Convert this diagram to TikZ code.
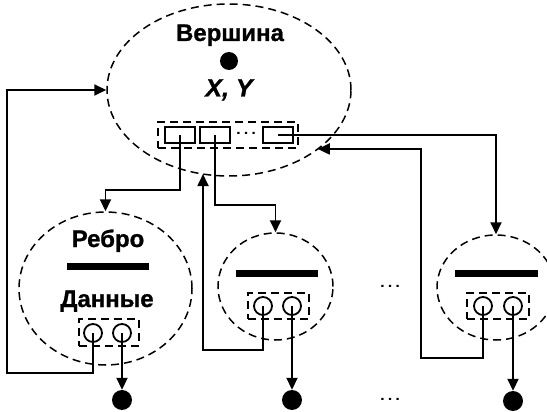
\documentclass[tikz,border=0pt]{standalone}
\usepackage{fontspec}
\setmainfont{Liberation Sans}
\newfontfamily\labfont[BoldFeatures={FakeBold=1},BoldItalicFeatures={FakeBold=1}]{Liberation Sans}
\newfontfamily\dotfont[FakeStretch=1.2]{Liberation Sans}
\usetikzlibrary{shapes.geometric,arrows.meta,calc}
\begin{document}
\begin{tikzpicture}[x=1pt,y=-1pt,
  lw/.style={line width=1.8pt},
  dsh/.style={dash pattern=on 8pt off 5pt, line width=1.5pt},
  oval/.style={ellipse,draw,dsh,inner sep=0pt},
  portbox/.style={rectangle,draw,dsh,inner sep=0pt},
  slot/.style={rectangle,draw,lw,minimum width=30pt,minimum height=16pt,inner sep=0pt},
  ring/.style={circle,draw,lw,minimum size=18pt,inner sep=0pt},
  bar/.style={rectangle,fill=black,minimum width=82pt,minimum height=7pt,inner sep=0pt},
  dot/.style={circle,fill=black,minimum size=20pt,inner sep=0pt},
  lab/.style={font=\labfont\bfseries\fontsize{24}{28}\selectfont,anchor=base,inner sep=0pt},
  ell/.style={font=\dotfont\fontsize{20}{24}\selectfont,anchor=base,inner sep=0pt},
  arr/.style={lw,-{Triangle[length=12pt,width=11pt]}}
]
\useasboundingbox (0,0) rectangle (547,412);

% vertex
\node[oval,minimum width=244pt,minimum height=172pt] (V) at (229,90) {};
\node[lab] (vt) at (230,41) {Вершина};
\node[dot,minimum size=18pt] (vd) at (229,61) {};
\node[font=\labfont\bfseries\itshape\fontsize{25}{29}\selectfont,anchor=base,inner sep=0pt] (xy) at (229,96.5) {X, Y};
\node[portbox,minimum width=140pt,minimum height=26pt] (vp) at (228,135) {};
\node[slot] (r1) at (180,135) {};
\node[slot] (r2) at (215,135) {};
\node[slot] (r3) at (278,135) {};
\node[ell] (vdots) at (246,134.5) {…};

% edge 1
\node[oval,minimum width=173pt,minimum height=153pt] (E1) at (105.5,288.5) {};
\node[lab] (e1t) at (108,247) {Ребро};
\node[bar] (b1) at (107.5,266.5) {};
\node[lab] (e1d) at (107,307) {Данные};
\node[portbox,minimum width=60pt,minimum height=27pt] (p1) at (109,332.5) {};
\node[ring] (c1a) at (93,333) {};
\node[ring] (c1b) at (122,333) {};
\node[dot] (d1) at (122,400) {};

% edge 2
\node[oval,minimum width=115pt,minimum height=107pt] (E2) at (275.5,286.5) {};
\node[bar] (b2) at (277,273) {};
\node[portbox,minimum width=61pt,minimum height=26pt] (p2) at (278.5,306) {};
\node[ring] (c2a) at (263,306) {};
\node[ring] (c2b) at (292,306) {};
\node[dot] (d2) at (292,400) {};

% edge 3
\node[oval,minimum width=118pt,minimum height=105pt] (E3) at (496,287.5) {};
\node[bar,minimum width=83pt] (b3) at (496.5,273) {};
\node[portbox,minimum width=62pt,minimum height=26pt] (p3) at (498,306) {};
\node[ring] (c3a) at (483,306) {};
\node[ring] (c3b) at (513,306) {};
\node[dot] (d3) at (513,401) {};

\node[ell] (mdots) at (390,287.5) {…};
\node[ell] (bdots) at (390,400.5) {…};

% connectors
\draw[arr] (r1.center) -- (r1.center |- 0,190) -| (E1.north);
\draw[arr] (r2.center) -- (r2.center |- 0,205) -| (E2.north);
\draw[arr] (r3.center) -| (E3.north);

\coordinate (L1) at (7,373);
\draw[arr] (c1a.center) |- (L1) |- (V.west);
\coordinate (Vb) at ($(V.center)+(102.3:122 and 86)$);
\draw[arr] (c2a.center) |- (Vb |- 0,350) -- (Vb);
\coordinate (Vr) at ($(V.center)+(43.3:122 and 86)$);
\coordinate (L3) at (421,358);
\draw[arr] (c3a.center) |- (L3) |- (Vr);

\draw[arr] (c1b.center) -- (d1.north);
\draw[arr] (c2b.center) -- (d2.north);
\draw[arr] (c3b.center) -- (d3.north);
\end{tikzpicture}
\end{document}
